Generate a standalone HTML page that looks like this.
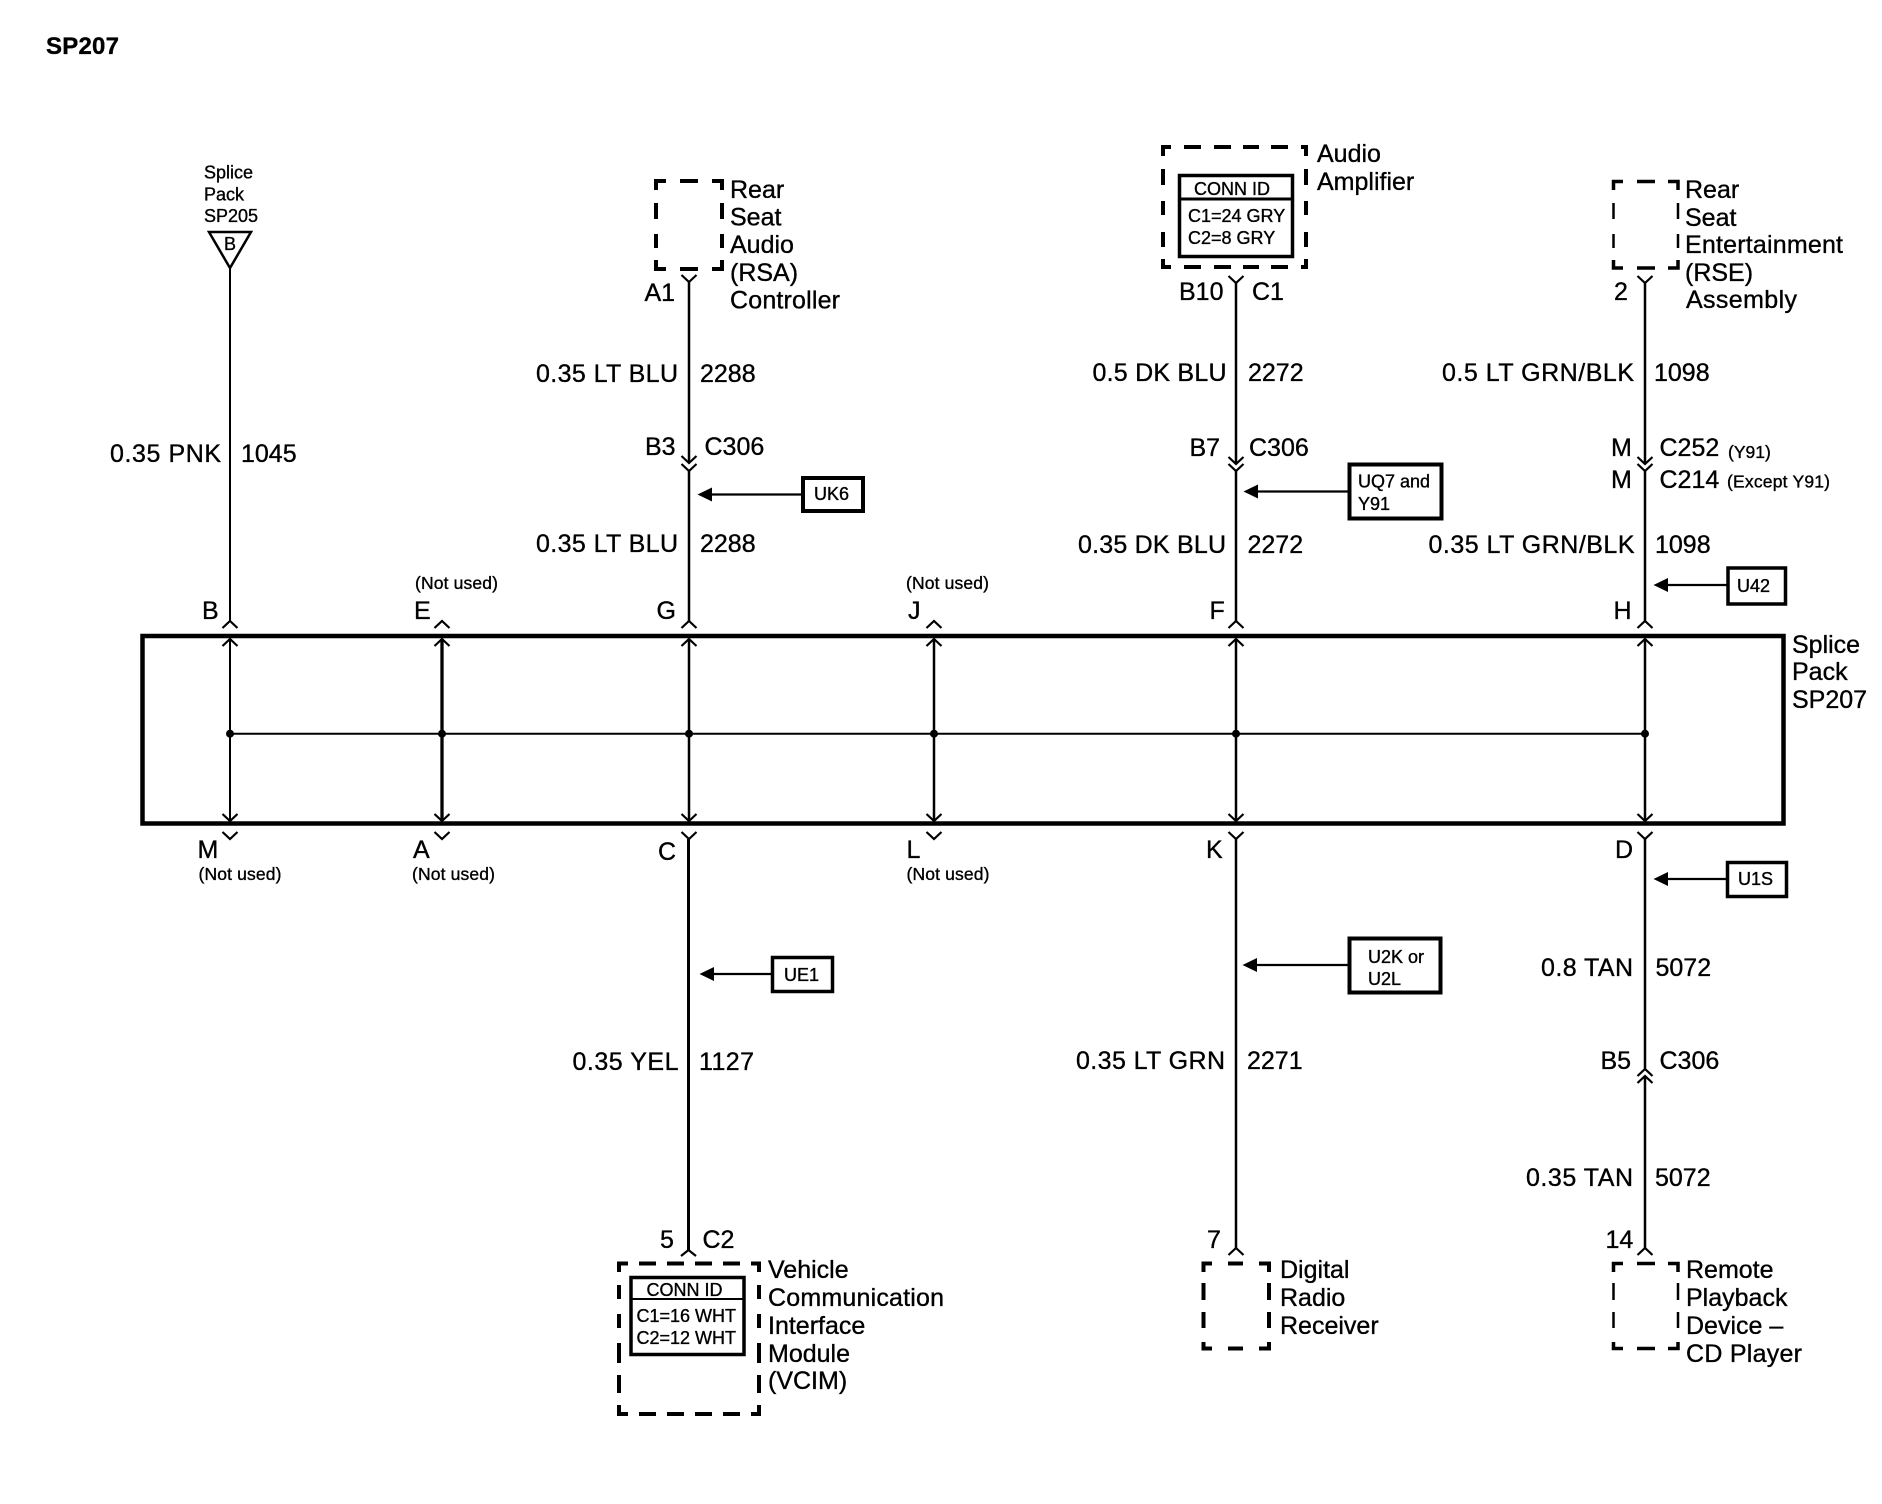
<!DOCTYPE html>
<html><head><meta charset="utf-8"><title>SP207</title>
<style>
html,body{margin:0;padding:0;background:#fff;}
svg{display:block;}
text{font-family:"Liberation Sans",sans-serif;fill:#000;stroke:#000;stroke-width:.35;font-size:25px;}
.s{font-size:18px;}
.n{font-size:17.5px;}
.b{font-size:24px;font-weight:bold;}
.w{fill:none;stroke:#000;stroke-width:2.5;}
.t{fill:none;stroke:#000;stroke-width:2;}
.d{fill:none;stroke:#000;stroke-width:4;}
.k{fill:none;stroke:#000;stroke-width:2.2;}
.x{fill:#fff;stroke:#000;stroke-width:4;}
</style></head><body>
<svg xmlns="http://www.w3.org/2000/svg" width="1882" height="1504" viewBox="0 0 1882 1504">
<rect width="1882" height="1504" fill="#fff"/>
<text class="b" x="46" y="54" textLength="73">SP207</text>

<!-- main box -->
<rect x="142.5" y="636" width="1641" height="187.5" fill="none" stroke="#000" stroke-width="4.5"/>
<path class="t" d="M230 733.7H1645"/>
<circle cx="230" cy="733.7" r="4"/><circle cx="442" cy="733.7" r="4"/><circle cx="689" cy="733.7" r="4"/><circle cx="934" cy="733.7" r="4"/><circle cx="1236" cy="733.7" r="4"/><circle cx="1645" cy="733.7" r="4"/>

<!-- verticals within box -->
<path class="t" d="M230 639V821"/>
<path fill="none" stroke="#000" stroke-width="3.3" d="M442 639V821"/>
<path class="w" d="M689 639V821M934 639V821M1236 639V821M1645 639V821"/>
<!-- inner carets -->
<path class="k" d="M222.5 646L230 639L237.5 646M434.5 646L442 639L449.500 646M681.500 646L689 639L696.500 646M926.500 646L934 639L941.500 646M1228.500 646L1236 639L1243.500 646M1637.500 646L1645 639L1652.500 646"/>
<path class="k" d="M222.5 814L230 821L237.5 814M434.5 814L442 821L449.500 814M681.500 814L689 821L696.500 814M926.500 814L934 821L941.500 814M1228.500 814L1236 821L1243.500 814M1637.500 814L1645 821L1652.500 814"/>
<!-- outer carets top -->
<path class="k" d="M222.5 628L230 621L237.5 628M434.5 628L442 621L449.500 628M681.500 628L689 621L696.500 628M926.500 628L934 621L941.500 628M1228.500 628L1236 621L1243.500 628M1637.500 628L1645 621L1652.500 628"/>
<!-- outer carets bottom -->
<path class="k" d="M222.5 832L230 839L237.5 832M434.5 832L442 839L449.500 832M681.500 832L689 839L696.500 832M926.500 832L934 839L941.500 832M1228.500 832L1236 839L1243.500 832M1637.500 832L1645 839L1652.500 832"/>

<!-- wire B -->
<path class="t" d="M230 268V621"/>
<path fill="#fff" stroke="#000" stroke-width="2.5" d="M209 232H251L230 268Z"/>
<text class="s" x="224" y="250">B</text>
<text class="s" x="204" y="178.500">Splice</text>
<text class="s" x="204" y="200.500">Pack</text>
<text class="s" x="204" y="222">SP205</text>
<text x="110" y="462" textLength="111">0.35 PNK</text>
<text x="241" y="462">1045</text>
<text x="202" y="619">B</text>

<!-- E / J -->
<text class="n" x="415" y="589" textLength="83">(Not used)</text>
<text x="414" y="619">E</text>
<text class="n" x="906" y="589" textLength="83">(Not used)</text>
<text x="908" y="619">J</text>

<!-- wire G -->
<path class="w" d="M689 282V463M689 471V621"/>
<path class="k" d="M681.500 275L689 282L696.500 275M681.500 456L689 463L696.500 456M681.500 464L689 471L696.500 464"/>
<path class="d" d="M656 190V181H666M680 181H698M712 181H722 V190M722 203V219M722 234V248M722 260V269H712M698 269H680M666 269H656V260M656 248V234M656 219V203"/>
<text x="730" y="198">Rear</text><text x="730" y="225.500">Seat</text><text x="730" y="253">Audio</text><text x="730" y="281">(RSA)</text><text x="730" y="308.500" textLength="110">Controller</text>
<text x="644.500" y="301">A1</text>
<text x="536" y="382" textLength="142">0.35 LT BLU</text><text x="700" y="382">2288</text>
<text x="645" y="455">B3</text><text x="704.500" y="455">C306</text>
<path class="k" stroke-width="3" d="M711 494.500H802"/>
<path d="M697.500 494.500L712 487.500V501.500Z"/>
<rect class="x" x="803" y="478" width="60" height="33" stroke-width="3.500"/>
<text class="s" x="814" y="500">UK6</text>
<text x="536" y="552" textLength="142">0.35 LT BLU</text><text x="700" y="552">2288</text>
<text x="656.500" y="619">G</text>

<!-- wire F -->
<path class="w" d="M1236 283V464M1236 471V621"/>
<path class="k" d="M1228.500 276L1236 283L1243.500 276M1228.500 457L1236 464L1243.500 457M1228.500 464L1236 471L1243.500 464"/>
<path class="d" d="M1163 156V147H1171M1184 147H1201M1214 147H1231M1243 147H1259M1271 147H1288M1301 147H1306V156M1306 169V185M1306 201V215M1306 232V247M1306 259V267H1301M1288 267H1271M1259 267H1243M1231 267H1214M1201 267H1184M1171 267H1163V259M1163 247V232M1163 215V201M1163 185V169"/>
<rect x="1179.500" y="175.500" width="113" height="81" fill="none" stroke="#000" stroke-width="3.500"/>
<path fill="none" stroke="#000" stroke-width="3" d="M1179 199H1293"/>
<text class="s" x="1194" y="195">CONN ID</text>
<text class="s" x="1188" y="222">C1=24 GRY</text>
<text class="s" x="1188" y="244">C2=8 GRY</text>
<text x="1317" y="162">Audio</text><text x="1317" y="190">Amplifier</text>
<text x="1179" y="300">B10</text><text x="1252" y="300">C1</text>
<text x="1092.500" y="381" textLength="134">0.5 DK BLU</text><text x="1248" y="381">2272</text>
<text x="1189.500" y="456">B7</text><text x="1249" y="456">C306</text>
<path class="k" stroke-width="3" d="M1257 491.500H1349"/>
<path d="M1243.500 491.500L1258 484.500V498.500Z"/>
<rect x="1349.500" y="464.500" width="92" height="54" fill="#fff" stroke="#000" stroke-width="4"/>
<text class="s" x="1358" y="487.500">UQ7 and</text><text class="s" x="1358" y="510">Y91</text>
<text x="1078" y="553" textLength="148">0.35 DK BLU</text><text x="1247.500" y="553">2272</text>
<text x="1209.500" y="619">F</text>

<!-- wire H -->
<path class="w" d="M1645 283V464M1645 471V621"/>
<path class="k" d="M1637.500 276L1645 283L1652.500 276M1637.500 457L1645 464L1652.500 457M1637.500 464L1645 471L1652.500 464"/>
<path fill="none" stroke="#000" stroke-width="3.500" d="M1613.500 190V181.500H1623M1637 181.500H1655M1668 181.500H1678V190M1613.500 260V268H1623M1637 268H1655M1668 268H1678V260"/>
<path fill="none" stroke="#000" stroke-width="2.500" d="M1613.500 203V219M1613.500 234V248M1678 203V219M1678 234V248"/>
<text x="1685" y="198">Rear</text><text x="1685" y="226">Seat</text><text x="1685" y="253" textLength="158">Entertainment</text><text x="1685" y="281">(RSE)</text><text x="1686" y="308" textLength="111">Assembly</text>
<text x="1614" y="300">2</text>
<text x="1442" y="381" textLength="192">0.5 LT GRN/BLK</text><text x="1654" y="381">1098</text>
<text x="1611" y="456">M</text><text x="1659.500" y="456">C252</text><text class="n" x="1728" y="458">(Y91)</text>
<text x="1611" y="488">M</text><text x="1659.500" y="488">C214</text><text class="n" x="1727" y="487.500" textLength="103">(Except Y91)</text>
<text x="1428.500" y="553" textLength="206">0.35 LT GRN/BLK</text><text x="1655" y="553">1098</text>
<path class="k" stroke-width="3" d="M1667 585H1727"/>
<path d="M1653.500 585L1668 578V592Z"/>
<rect x="1728" y="568" width="57.500" height="36" fill="#fff" stroke="#000" stroke-width="3.500"/>
<text class="s" x="1737" y="592">U42</text>
<text x="1613.500" y="619">H</text>

<text x="1792" y="653">Splice</text><text x="1792" y="680">Pack</text><text x="1792" y="708">SP207</text>

<!-- bottom labels -->
<text x="197.500" y="858">M</text><text class="n" x="198.500" y="880" textLength="83">(Not used)</text>
<text x="413" y="858">A</text><text class="n" x="412" y="880" textLength="83">(Not used)</text>
<text x="906.500" y="858">L</text><text class="n" x="906.500" y="880" textLength="83">(Not used)</text>
<text x="658" y="860">C</text><text x="1206" y="858">K</text><text x="1615" y="858">D</text>

<!-- wire C -->
<path fill="none" stroke="#000" stroke-width="3" d="M688.500 839V1250"/>
<path class="k" d="M681 1256L688.500 1250L696 1256"/>
<path class="k" stroke-width="3" d="M713 974H771"/>
<path d="M699.500 974L714 967V981Z"/>
<rect x="772.500" y="957.500" width="60" height="34" fill="#fff" stroke="#000" stroke-width="3.500"/>
<text class="s" x="784" y="981">UE1</text>
<text x="572.500" y="1070" textLength="106">0.35 YEL</text><text x="699" y="1070" textLength="55">1127</text>
<text x="660" y="1248">5</text><text x="702.500" y="1248">C2</text>
<path class="d" d="M619 1272V1263.500H628M639 1263.500H656M667 1263.500H684M695 1263.500H712M723 1263.500H740M751 1263.500H759V1272M759 1285V1299M759 1314V1328M759 1343V1363M759 1375V1393M759 1405V1414H751M740 1414H723M712 1414H695M684 1414H667M656 1414H639M628 1414H619V1405M619 1393V1375M619 1363V1343M619 1328V1314M619 1299V1285"/>
<rect x="631" y="1277.500" width="113" height="77" fill="none" stroke="#000" stroke-width="3.500"/>
<path fill="none" stroke="#000" stroke-width="2" d="M631 1299H745"/>
<text class="s" x="646.500" y="1296">CONN ID</text>
<text class="s" x="636.500" y="1322">C1=16 WHT</text>
<text class="s" x="636.500" y="1344">C2=12 WHT</text>
<text x="768" y="1278">Vehicle</text><text x="768" y="1306" textLength="176">Communication</text><text x="768" y="1334">Interface</text><text x="768" y="1362">Module</text><text x="768" y="1389">(VCIM)</text>

<!-- wire K -->
<path class="w" d="M1236 839V1248"/>
<path class="k" d="M1228.500 1255L1236 1248L1243.500 1255"/>
<path class="k" stroke-width="3" d="M1256 965H1348"/>
<path d="M1242.500 965L1257 958V972Z"/>
<rect x="1349.500" y="938.500" width="91" height="54" fill="#fff" stroke="#000" stroke-width="4"/>
<text class="s" x="1368" y="963">U2K or</text><text class="s" x="1368" y="985">U2L</text>
<text x="1076" y="1069" textLength="149">0.35 LT GRN</text><text x="1247" y="1069">2271</text>
<text x="1207" y="1248">7</text>
<path class="d" d="M1203.500 1272V1263.500H1212M1228 1263.500H1243M1259 1263.500H1269V1272M1269 1283V1300M1269 1312V1328M1269 1342V1348.500H1259M1243 1348.500H1228M1212 1348.500H1203.500V1342M1203.500 1328V1312M1203.500 1300V1283"/>
<text x="1280" y="1278">Digital</text><text x="1280" y="1306">Radio</text><text x="1280" y="1334">Receiver</text>

<!-- wire D -->
<path class="w" d="M1645 839V1069M1645 1076V1248"/>
<path class="k" d="M1637.500 1076L1645 1069L1652.500 1076M1637.500 1083L1645 1076L1652.500 1083M1637.500 1255L1645 1248L1652.500 1255"/>
<path class="k" stroke-width="3" d="M1667 879H1726"/>
<path d="M1653.500 879L1668 872V886Z"/>
<rect x="1727.500" y="862.500" width="59" height="34" fill="#fff" stroke="#000" stroke-width="3.500"/>
<text class="s" x="1738" y="885">U1S</text>
<text x="1541" y="976" textLength="92">0.8 TAN</text><text x="1655.500" y="976">5072</text>
<text x="1600.500" y="1069">B5</text><text x="1659.500" y="1069">C306</text>
<text x="1526" y="1186" textLength="107">0.35 TAN</text><text x="1655" y="1186">5072</text>
<text x="1605.500" y="1248">14</text>
<path fill="none" stroke="#000" stroke-width="3.500" d="M1613.500 1272V1263.500H1623M1637 1263.500H1655M1668 1263.500H1678V1272M1613.500 1342V1348.500H1623M1637 1348.500H1655M1668 1348.500H1678V1342"/>
<path fill="none" stroke="#000" stroke-width="2.500" d="M1613.500 1283V1300M1613.500 1312V1328M1678 1283V1300M1678 1312V1328"/>
<text x="1686" y="1278">Remote</text><text x="1686" y="1306">Playback</text><text x="1686" y="1334">Device –</text><text x="1686" y="1362" textLength="116">CD Player</text>
</svg>
</body></html>
